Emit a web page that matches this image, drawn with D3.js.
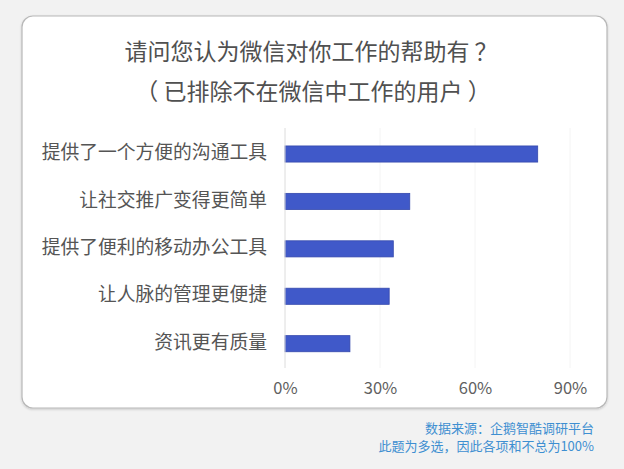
<!DOCTYPE html>
<html>
<head>
<meta charset="utf-8">
<script src="https://cdn.jsdelivr.net/npm/d3@7"></script>
<style>
  html, body { margin: 0; padding: 0; background: #f2f2f2; }
  svg { display: block; }
  text { font-family: "Noto Sans CJK SC", "Noto Sans", sans-serif; }
</style>
</head>
<body>
<svg id="chart" width="624" height="469"></svg>
<script>
const titleLines = ["请问您认为微信对你工作的帮助有 ？", "（ 已排除不在微信中工作的用户 ）"];
const categories = ["提供了一个方便的沟通工具", "让社交推广变得更简单", "提供了便利的移动办公工具", "让人脉的管理更便捷", "资讯更有质量"];
const values = [79.8, 39.4, 34.2, 32.9, 20.5];
const tickValues = [0, 30, 60, 90];
const footnotes = ["数据来源：企鹅智酷调研平台", "此题为多选，因此各项和不总为100%"];

const svg = d3.select("#chart");

const defs = svg.append("defs");
const f = defs.append("filter").attr("id", "sh").attr("x", "-5%").attr("y", "-5%").attr("width", "110%").attr("height", "110%");
f.append("feDropShadow").attr("dx", 0).attr("dy", 1).attr("stdDeviation", 1.2).attr("flood-color", "#000").attr("flood-opacity", 0.18);

svg.append("rect")
  .attr("x", 22).attr("y", 16).attr("width", 585).attr("height", 392)
  .attr("rx", 11).attr("ry", 11)
  .attr("fill", "#ffffff").attr("stroke", "#b8b8b8").attr("stroke-width", 1.2)
  .attr("filter", "url(#sh)");

svg.selectAll(".title").data(titleLines).join("text")
  .attr("class", "title")
  .attr("x", (d, i) => i === 0 ? 311 : 313)
  .attr("y", (d, i) => 54 + i * 40)
  .attr("text-anchor", "middle")
  .attr("dominant-baseline", "middle")
  .attr("font-size", 23)
  .attr("fill", "#505050")
  .text(d => d);

const x = d3.scaleLinear().domain([0, 90]).range([285, 570]);
const y = d3.scaleBand().domain(categories).range([130.3, 367.4]).paddingInner(0.66).paddingOuter(0.33);

svg.append("g").selectAll("line").data(tickValues.slice(1)).join("line")
  .attr("x1", d => x(d)).attr("x2", d => x(d))
  .attr("y1", 128).attr("y2", 368)
  .attr("stroke", "#f4f4f4").attr("stroke-width", 1);

svg.append("g").selectAll("rect").data(categories).join("rect")
  .attr("x", x(0))
  .attr("y", d => y(d))
  .attr("width", (d, i) => x(values[i]) - x(0))
  .attr("height", y.bandwidth())
  .attr("fill", "#4059c9")
  .attr("stroke", "#3549ad")
  .attr("stroke-width", 0.8);

svg.append("line")
  .attr("x1", x(0)).attr("x2", x(0))
  .attr("y1", 128).attr("y2", 368)
  .attr("stroke", "#dcdcdc").attr("stroke-width", 1);

svg.append("g").selectAll("text").data(categories).join("text")
  .attr("x", 267)
  .attr("y", d => y(d) + y.bandwidth() / 2)
  .attr("text-anchor", "end")
  .attr("dominant-baseline", "middle")
  .attr("font-size", 18.8)
  .attr("fill", "#555555")
  .text(d => d);

const xAxis = d3.axisBottom(x).tickValues(tickValues).tickFormat(d => d + "%").tickSize(0).tickPadding(0);
const gx = svg.append("g").attr("transform", "translate(0,382)").call(xAxis);
gx.select(".domain").remove();
gx.selectAll("text")
  .attr("font-size", 16.5)
  .attr("fill", "#606060")
  .attr("font-family", "\"Noto Sans CJK SC\", sans-serif");

svg.selectAll(".foot").data(footnotes).join("text")
  .attr("class", "foot")
  .attr("x", 594)
  .attr("y", (d, i) => 429 + i * 18)
  .attr("text-anchor", "end")
  .attr("dominant-baseline", "middle")
  .attr("font-size", 13)
  .attr("fill", "#3e8fd1")
  .text(d => d);
</script>
</body>
</html>
